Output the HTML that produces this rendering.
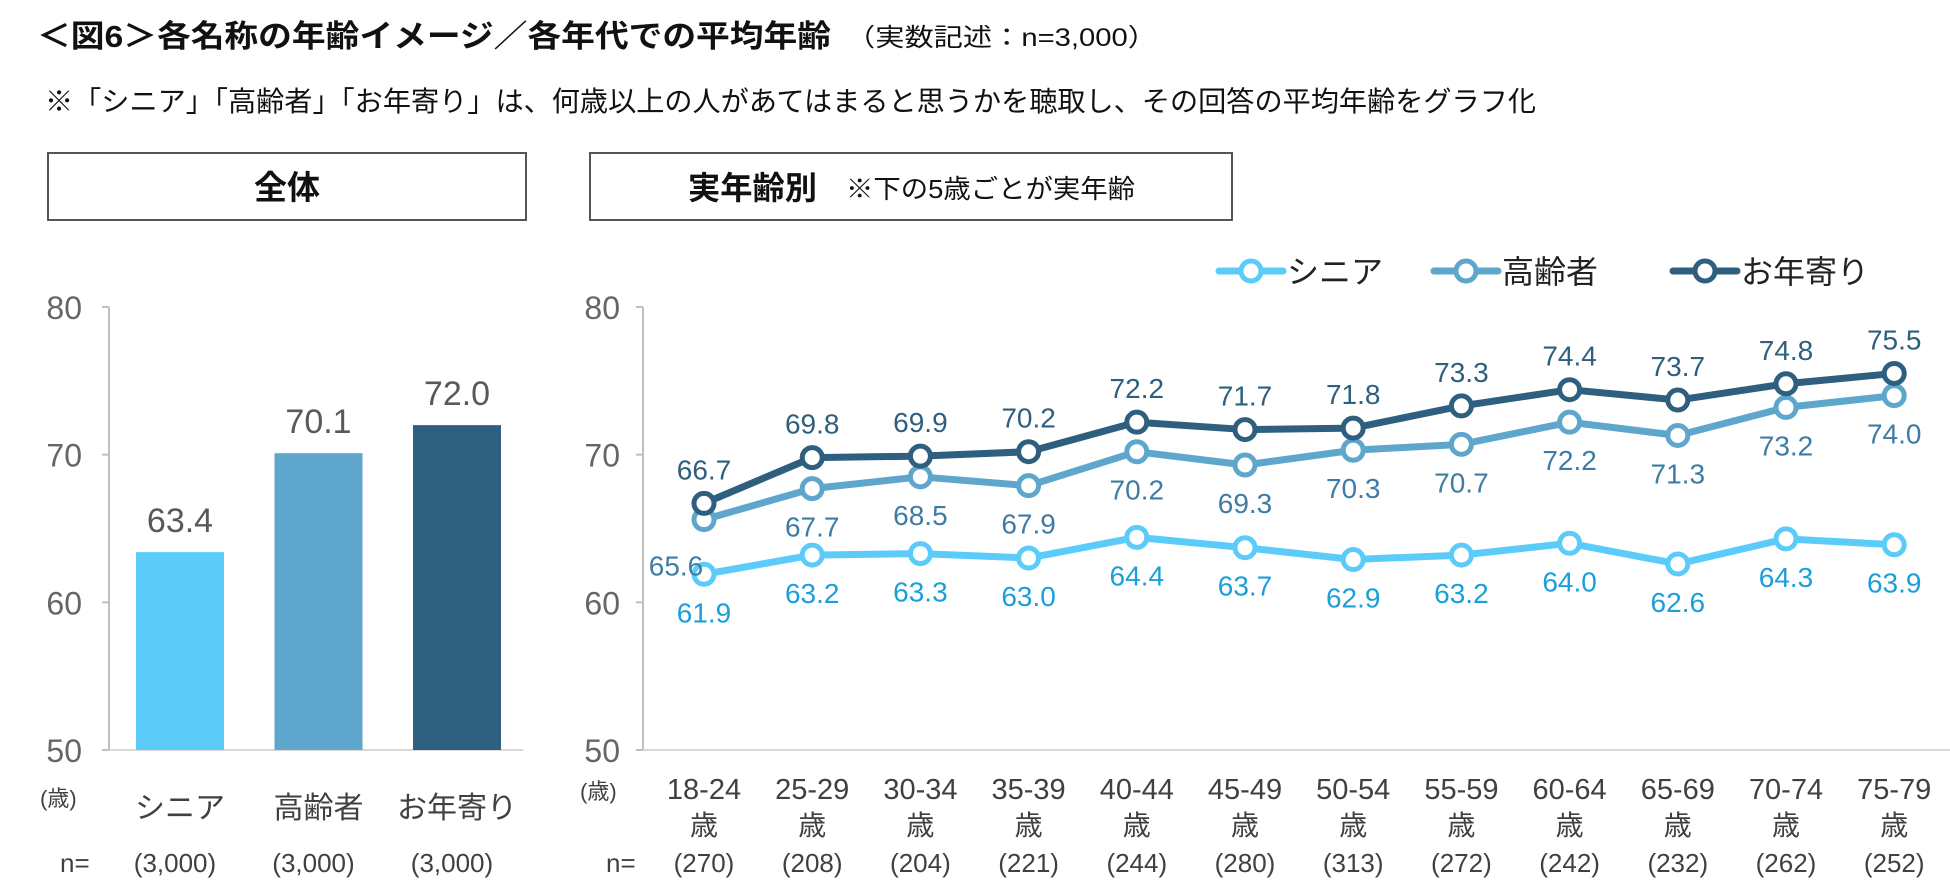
<!DOCTYPE html>
<html><head><meta charset="utf-8"><style>
body{margin:0;background:#fff;}
svg{display:block;font-family:"Liberation Sans","Noto Sans CJK JP",sans-serif;}
</style></head><body>
<svg id="c" width="1950" height="894" viewBox="0 0 1950 894" xmlns="http://www.w3.org/2000/svg">
<text x="37" y="47" font-size="31" font-weight="bold" fill="#111" textLength="794" lengthAdjust="spacingAndGlyphs">＜図6＞各名称の年齢イメージ／各年代での平均年齢</text>
<text x="846" y="46" font-size="25" fill="#111" textLength="311" lengthAdjust="spacingAndGlyphs">（実数記述：n=3,000）</text>
<text x="45" y="111" font-size="28" fill="#111" textLength="1491" lengthAdjust="spacingAndGlyphs">※「シニア」「高齢者」「お年寄り」は、何歳以上の人があてはまると思うかを聴取し、その回答の平均年齢をグラフ化</text>
<rect x="48" y="153" width="478" height="67" fill="#fff" stroke="#555" stroke-width="2"/>
<text x="287" y="199" font-size="33" font-weight="bold" text-anchor="middle" fill="#111">全体</text>
<rect x="590" y="153" width="642" height="67" fill="#fff" stroke="#555" stroke-width="2"/>
<text x="688" y="199" font-size="32" font-weight="bold" fill="#111" textLength="129" lengthAdjust="spacingAndGlyphs">実年齢別</text>
<text x="846" y="198" font-size="26" fill="#111" textLength="289" lengthAdjust="spacingAndGlyphs">※下の5歳ごとが実年齢</text>
<g id="left"></g><g id="right"></g>
</svg>
<script>
const barCats=["シニア","高齢者","お年寄り"];
const barVals=[63.4,70.1,72.0];
const barN=["(3,000)","(3,000)","(3,000)"];
const ticks=[50,60,70,80];
const ageCats=["18-24","25-29","30-34","35-39","40-44","45-49","50-54","55-59","60-64","65-69","70-74","75-79"];
const ageN=["(270)","(208)","(204)","(221)","(244)","(280)","(313)","(272)","(242)","(232)","(262)","(252)"];
const senior=[61.9,63.2,63.3,63.0,64.4,63.7,62.9,63.2,64.0,62.6,64.3,63.9];
const elderly=[65.6,67.7,68.5,67.9,70.2,69.3,70.3,70.7,72.2,71.3,73.2,74.0];
const otoshiyori=[66.7,69.8,69.9,70.2,72.2,71.7,71.8,73.3,74.4,73.7,74.8,75.5];
const seriesNames=["シニア","高齢者","お年寄り"];

const NS="http://www.w3.org/2000/svg";
const colors=["#5BCBFA","#5FA6CD","#2F5F7E"];
const labelColors=["#1A9FD9","#3E7CA5","#2F5F7E"];
function el(tag,attrs,parent,text){const e=document.createElementNS(NS,tag);for(const k in attrs)e.setAttribute(k,attrs[k]);if(text!==undefined)e.textContent=text;parent.appendChild(e);return e;}
const yTop=307,yBot=750;
function y(v){return yBot-(v-50)/30*(yBot-yTop);}

// left bar chart
const L=document.getElementById('left');
el('line',{x1:109,y1:yTop,x2:109,y2:yBot,stroke:'#bfbfbf','stroke-width':2},L);
el('line',{x1:109,y1:yBot,x2:523,y2:yBot,stroke:'#d9d9d9','stroke-width':2},L);
ticks.forEach(t=>{
  const tx=el('text',{x:82,y:y(t)+12,'font-size':32,fill:'#666','text-anchor':'end'},L,String(t));
  
  
  el('line',{x1:102,y1:y(t),x2:109,y2:y(t),stroke:'#bfbfbf','stroke-width':2},L);
});
function bx(i){return 180+i*138.5;}
barCats.forEach((c,i)=>{
  const r=el('rect',{x:bx(i)-44,y:y(barVals[i]),width:88,height:yBot-y(barVals[i]),fill:colors[i]},L);
  
  
  const v=el('text',{x:bx(i),y:y(barVals[i])-20,'font-size':34,fill:'#595959','text-anchor':'middle'},L,barVals[i].toFixed(1));
  
  
  const cl=el('text',{x:bx(i),y:818,'font-size':30,fill:'#404040','text-anchor':'middle'},L,c);
  
  
  const nl=el('text',{x:bx(i)-5,y:872,'font-size':26,fill:'#404040','text-anchor':'middle'},L,barN[i]);
  
  
});
let t1=el('text',{x:40,y:806,'font-size':22,fill:'#404040'},L,'(歳)');


let t2=el('text',{x:60,y:872,'font-size':26,fill:'#404040'},L,'n=');



// right line chart
const R=document.getElementById('right');
el('line',{x1:643,y1:yTop,x2:643,y2:yBot,stroke:'#bfbfbf','stroke-width':2},R);
el('line',{x1:643,y1:yBot,x2:1950,y2:yBot,stroke:'#d9d9d9','stroke-width':2},R);
ticks.forEach(t=>{
  const tx=el('text',{x:620,y:y(t)+12,'font-size':32,fill:'#666','text-anchor':'end'},R,String(t));
  
  
  el('line',{x1:636,y1:y(t),x2:643,y2:y(t),stroke:'#bfbfbf','stroke-width':2},R);
});
function x(i){return 704+i*108.2;}
ageCats.forEach((c,i)=>{
  const a=el('text',{x:x(i),y:799,'font-size':29,fill:'#404040','text-anchor':'middle'},R,c);
  
  
  const b=el('text',{x:x(i),y:835,'font-size':28,fill:'#404040','text-anchor':'middle'},R,'歳');
  
  
  const n=el('text',{x:x(i),y:872,'font-size':26,fill:'#404040','text-anchor':'middle'},R,ageN[i]);
  
  
});
let t3=el('text',{x:580,y:799,'font-size':22,fill:'#404040'},R,'(歳)');


let t4=el('text',{x:606,y:872,'font-size':26,fill:'#404040'},R,'n=');



const allSeries=[senior,elderly,otoshiyori];
allSeries.forEach((s,si)=>{
  const g=el('g',{},R);
  
  
  const p=el('polyline',{points:s.map((v,i)=>x(i)+','+y(v)).join(' '),fill:'none',stroke:colors[si],'stroke-width':7,'stroke-linejoin':'round'},g);
  
  
  s.forEach((v,i)=>{
    const c=el('circle',{cx:x(i),cy:y(v),r:10,fill:'#fff',stroke:colors[si],'stroke-width':5},g);
    
    
    let lx=x(i),ly=si===2?y(v)-24:y(v)+48;
    if(si===1&&i===0){lx=x(i)-28;ly=y(v)+56;}
    const t=el('text',{x:lx,y:ly,'font-size':28,fill:labelColors[si],'text-anchor':'middle'},g,v.toFixed(1));
    
    
  });
});
// legend
const legX=[1219,1434,1673];
seriesNames.forEach((n,i)=>{
  const g=el('g',{},R);
  
  
  el('line',{x1:legX[i],y1:271,x2:legX[i]+64,y2:271,stroke:colors[i],'stroke-width':7,'stroke-linecap':'round'},g);
  el('circle',{cx:legX[i]+32,cy:271,r:10,fill:'#fff',stroke:colors[i],'stroke-width':5},g);
  el('text',{x:legX[i]+68,y:283,'font-size':32,fill:'#222'},g,n);
});
</script>
</body></html>
